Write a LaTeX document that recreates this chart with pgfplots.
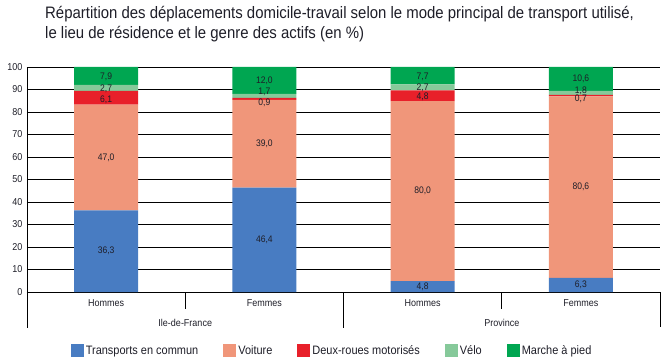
\documentclass[border=0pt]{standalone}
\usepackage{fontspec}
\setmainfont{Liberation Sans}[FakeStretch=0.9]
\usepackage{pgfplots}
\pgfplotsset{compat=1.18}
\definecolor{ctc}{RGB}{72,124,194}
\definecolor{cvoit}{RGB}{240,150,122}
\definecolor{cdr}{RGB}{232,32,42}
\definecolor{cvelo}{RGB}{134,201,154}
\definecolor{cmarche}{RGB}{0,166,81}
\definecolor{ctxt}{RGB}{30,30,40}
\begin{document}
\begin{tikzpicture}[x=1bp,y=1bp]
\path[use as bounding box] (-27,-68) rectangle (640,292);
\node[anchor=base west,font=\fontsize{16.6bp}{18bp}\selectfont,text=ctxt,inner sep=0] at (18,274) {Répartition des déplacements domicile-travail selon le mode principal de transport utilisé,};
\node[anchor=base west,font=\fontsize{16.6bp}{18bp}\selectfont,text=ctxt,inner sep=0] at (18,254) {le lieu de résidence et le genre des actifs (en \%)};
\begin{axis}[
  at={(0,0)}, anchor=south west,
  scale only axis, width=633bp, height=225bp,
  xmin=-0.5, xmax=3.5, ymin=0, ymax=100,
  ybar stacked, bar width=64bp,
  separate axis lines,
  axis x line*=bottom, axis y line*=left,
  axis line style={black, line width=0.9bp},
  ymajorgrids, grid style={black, line width=0.8bp},
  ytick={0,10,...,100},
  major tick length=0pt,
  /pgf/number format/assume math mode=true,
  yticklabel style={font=\fontsize{10bp}{12bp}\selectfont, text=ctxt, xshift=-1bp},
  xtick={0,1,2,3},
  xticklabels={Hommes,Femmes,Hommes,Femmes},
  xticklabel style={font=\fontsize{10bp}{12bp}\selectfont, text=ctxt, anchor=base, yshift=-14bp},
  clip=false,
  visualization depends on={rawy \as \rawy},
  visualization depends on={\thisrow{dy} \as \dy},
  nodes near coords={\pgfmathprintnumber[fixed,fixed zerofill,precision=1,use comma]{\rawy}},
  every node near coord/.append style={font=\fontsize{9.5bp}{11bp}\selectfont, text=ctxt, anchor=center, yshift=1bp*\dy},
  legend columns=5,
  legend style={at={(axis description cs:0.482,-0.262)}, anchor=center, draw=none, fill=none,
    font=\fontsize{12.2bp}{13bp}\selectfont, text=ctxt,
    /tikz/every even column/.append style={column sep=23bp}},
  legend image code/.code={\path[#1,draw=none] (0bp,-6.5bp) rectangle (13bp,6.5bp);},
]
\addplot[fill=ctc, draw=none] table[row sep=\\] {x y dy \\ 0 36.3 0 \\ 1 46.4 0 \\ 2 4.8 0 \\ 3 6.3 0 \\};
\addplot[fill=cvoit, draw=none] table[row sep=\\] {x y dy \\ 0 47.0 0 \\ 1 39.0 0 \\ 2 80.0 0 \\ 3 80.6 0 \\};
\addplot[fill=cdr, draw=none] table[row sep=\\] {x y dy \\ 0 6.1 -2 \\ 1 0.9 -4 \\ 2 4.8 -1 \\ 3 0.7 -3.5 \\};
\addplot[fill=cvelo, draw=none] table[row sep=\\] {x y dy \\ 0 2.7 -1 \\ 1 1.7 4 \\ 2 2.7 0 \\ 3 1.8 2 \\};
\addplot[fill=cmarche, draw=none] table[row sep=\\] {x y dy \\ 0 7.9 -1 \\ 1 12.0 0 \\ 2 7.7 -1 \\ 3 10.6 0 \\};
\legend{Transports en commun, Voiture, Deux-roues motorisés, Vélo, Marche à pied}
\draw[black, line width=0.9bp] (axis cs:-0.5,0) -- ([yshift=-36bp]axis cs:-0.5,0);
\draw[black, line width=0.9bp] (axis cs:0.5,0) -- ([yshift=-17bp]axis cs:0.5,0);
\draw[black, line width=0.9bp] (axis cs:1.5,0) -- ([yshift=-36bp]axis cs:1.5,0);
\draw[black, line width=0.9bp] (axis cs:2.5,0) -- ([yshift=-17bp]axis cs:2.5,0);
\draw[black, line width=0.9bp] (axis cs:3.5,0) -- ([yshift=-35bp]axis cs:3.5,0);
\node[anchor=base, font=\fontsize{10bp}{12bp}\selectfont, text=ctxt] at ([yshift=-34bp]axis cs:0.5,0) {Ile-de-France};
\node[anchor=base, font=\fontsize{10bp}{12bp}\selectfont, text=ctxt] at ([yshift=-34bp]axis cs:2.5,0) {Province};
\end{axis}
\end{tikzpicture}
\end{document}
